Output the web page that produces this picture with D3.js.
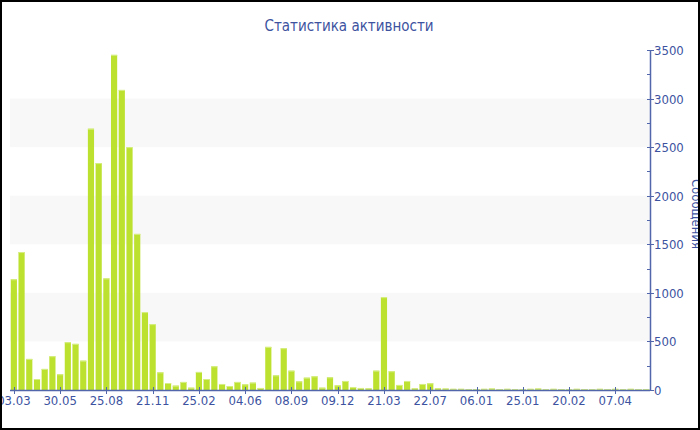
<!DOCTYPE html>
<html><head><meta charset="utf-8">
<script src="https://cdn.jsdelivr.net/npm/d3@7"></script>
<style>
html,body{margin:0;padding:0;background:#fff;}
svg{display:block;}
text{font-family:"DejaVu Sans Condensed","DejaVu Sans",sans-serif;font-stretch:condensed;}
</style></head>
<body>
<svg id="chart" width="700" height="430"></svg>
<script>
const title = "Статистика активности";
const yTitle = "Сообщения";
const values = [1140,1420,320,113,217,348,162,492,475,302,
  2690,2336,1149,3450,3089,2500,1607,802,678,182,
  72,45,83,24,186,113,244,62,41,83,
  58,76,21,444,151,430,199,89,127,141,
  24,131,48,93,31,21,17,199,956,193,
  52,93,17,62,69,17,15,12,12,10,
  10,12,15,10,12,10,10,12,15,10,
  12,10,10,12,10,10,12,10,12,10,
  12,10,10];
const tickIndex = [0,6,12,18,24,30,36,42,48,54,60,66,72,78];
const tickLabels = ["03.03","30.05","25.08","21.11","25.02","04.06","08.09","09.12","21.03","22.07","06.01","25.01","20.02","07.04"];
const yTicks = [0,500,1000,1500,2000,2500,3000,3500];
const yMinor = [250,750,1250,1750,2250,2750,3250];
const bandsY = [[500,1000],[1500,2000],[2500,3000]];

const textColor = "#3d539f", lineColor = "#5266ab", barColor = "#bde12f";
const svg = d3.select("#chart");
const L = 10, R = 650, T = 50, B = 390;
const x = d3.scaleBand().domain(d3.range(values.length)).range([L, R]).paddingInner(0.2).paddingOuter(0.1);
const y = d3.scaleLinear().domain([0, 3500]).range([B, T]);

// alternating bands
svg.append("g").selectAll("rect").data(bandsY).join("rect")
  .attr("x", L).attr("width", R - L)
  .attr("y", d => y(d[1])).attr("height", d => y(d[0]) - y(d[1]))
  .attr("fill", "#f8f8f8");

// bars
svg.append("g").selectAll("rect").data(values).join("rect")
  .attr("x", (d, i) => x(i)).attr("width", x.bandwidth())
  .attr("y", d => y(d)).attr("height", d => B - y(d))
  .attr("fill", barColor);
svg.append("g").selectAll("rect").data(values).join("rect")
  .attr("x", (d, i) => x(i)).attr("width", x.bandwidth())
  .attr("y", d => y(d)).attr("height", 1)
  .attr("fill", "#d6ee86");

// x axis
const xg = svg.append("g");
xg.append("line").attr("x1", L).attr("x2", R).attr("y1", B + 0.5).attr("y2", B + 0.5)
  .attr("stroke", lineColor).attr("stroke-width", 1.5);
xg.selectAll("line.t").data(tickIndex).join("line").attr("class", "t")
  .attr("x1", d => Math.round(x(d) + x.bandwidth() / 2) + 0.5).attr("x2", d => Math.round(x(d) + x.bandwidth() / 2) + 0.5)
  .attr("y1", B - 3).attr("y2", B + 4).attr("stroke", lineColor).attr("stroke-width", 1);
xg.selectAll("text").data(tickIndex).join("text")
  .attr("x", d => x(d) + x.bandwidth() / 2).attr("y", B + 15)
  .attr("text-anchor", "middle").attr("font-size", 13).attr("fill", textColor)
  .text((d, i) => tickLabels[i]);

// y axis (right)
const yg = svg.append("g");
yg.append("line").attr("x1", R + 0.5).attr("x2", R + 0.5).attr("y1", T).attr("y2", B + 1)
  .attr("stroke", lineColor).attr("stroke-width", 1.5);
yg.selectAll("line.M").data(yTicks).join("line").attr("class", "M")
  .attr("x1", R - 3).attr("x2", R + 4)
  .attr("y1", d => Math.round(y(d)) + 0.5).attr("y2", d => Math.round(y(d)) + 0.5)
  .attr("stroke", lineColor);
yg.selectAll("line.m").data(yMinor).join("line").attr("class", "m")
  .attr("x1", R - 3).attr("x2", R)
  .attr("y1", d => Math.round(y(d)) + 0.5).attr("y2", d => Math.round(y(d)) + 0.5)
  .attr("stroke", lineColor);
yg.selectAll("text").data(yTicks).join("text")
  .attr("x", R + 4).attr("y", d => y(d) + 5)
  .attr("font-size", 13).attr("fill", textColor).text(d => d);

// y title
svg.append("text").attr("transform", `translate(692,214) rotate(90)`)
  .attr("text-anchor", "middle").attr("font-size", 13).attr("fill", textColor).text(yTitle);

// title
svg.append("text").attr("x", 349).attr("y", 31).attr("text-anchor", "middle")
  .attr("font-size", 15).attr("fill", textColor).text(title);

// frame
svg.append("rect").attr("x", 1).attr("y", 1).attr("width", 698).attr("height", 428)
  .attr("fill", "none").attr("stroke", "#000").attr("stroke-width", 2);
</script>
</body></html>
